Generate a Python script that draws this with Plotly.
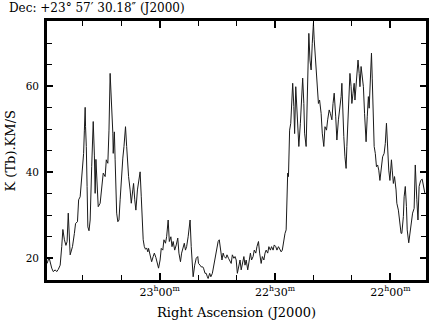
import plotly.graph_objects as go

# Right ascension in minutes of time (23h00m = 1380) and integrated intensity K km/s
ra_min = [
    1409.3, 1408.8, 1408.1, 1407.7, 1407.2, 1406.8, 1406.4, 1405.9, 1405.5, 1405.2,
    1404.8, 1404.4, 1404.1, 1403.8, 1403.3, 1402.7, 1402.2, 1401.9, 1401.4, 1401.1,
    1400.7, 1400.3, 1400.0, 1399.8, 1399.6, 1399.4, 1399.3, 1399.1, 1398.9, 1398.7,
    1398.4, 1398.1, 1397.7, 1397.3, 1397.0, 1396.8, 1396.6, 1396.3, 1396.0, 1395.5,
    1395.1, 1394.7, 1394.2, 1393.9, 1393.5, 1393.2, 1392.9,
    1392.5, 1392.2, 1392.1, 1391.8, 1391.6, 1391.2, 1390.9, 1390.6, 1390.3, 1389.9,
    1389.6, 1389.3, 1388.9, 1388.6, 1388.3, 1388.1, 1387.7, 1387.4, 1387.0, 1386.8,
    1386.5, 1386.2, 1385.8, 1385.5, 1385.1, 1384.8, 1384.5, 1384.3, 1384.0, 1383.7,
    1383.4, 1383.1, 1382.9, 1382.5, 1382.1, 1381.7, 1381.4, 1381.0, 1380.7, 1380.3,
    1379.9, 1379.6, 1379.2, 1378.9, 1378.5, 1378.2, 1377.8, 1377.5, 1377.1, 1376.8,
    1376.5, 1376.1, 1375.7, 1375.3, 1375.0, 1374.6, 1374.3, 1373.9, 1373.6, 1373.3,
    1373.0, 1372.6, 1372.4, 1372.1, 1371.8, 1371.5, 1371.3, 1370.9, 1370.5, 1370.1,
    1369.9, 1369.5, 1369.2, 1368.8, 1368.6, 1368.2, 1367.9, 1367.6, 1367.4, 1367.0,
    1366.7, 1366.3, 1366.0, 1365.6, 1365.3, 1364.8, 1364.5, 1364.1, 1363.8, 1363.5,
    1363.2, 1362.8, 1362.5, 1362.1, 1361.8, 1361.4, 1361.1, 1360.7, 1360.4,
    1360.1, 1359.8, 1359.4, 1359.1, 1358.8, 1358.5, 1358.1, 1357.8, 1357.5, 1357.1,
    1356.8, 1356.4, 1356.1, 1355.7, 1355.4, 1355.0, 1354.7, 1354.3, 1354.0, 1353.6,
    1353.3, 1352.9, 1352.6, 1352.3, 1351.9, 1351.6, 1351.2, 1350.9, 1350.5, 1350.2,
    1349.8, 1349.5, 1349.1, 1348.8, 1348.4, 1348.1, 1347.7, 1347.4, 1347.1, 1347.0,
    1346.7, 1346.5, 1346.4, 1346.2, 1345.9, 1345.7, 1345.4, 1345.1, 1344.9, 1344.6,
    1344.4, 1344.1, 1343.8,
    1343.4, 1343.1, 1342.8, 1342.5, 1342.3, 1341.9, 1341.7, 1341.4, 1341.2, 1340.9,
    1340.6, 1340.3, 1340.0, 1339.8, 1339.4, 1339.1, 1338.7, 1338.4, 1338.0, 1337.7,
    1337.3, 1337.0, 1336.6, 1336.3, 1335.9, 1335.6, 1335.2, 1334.9, 1334.6, 1334.2,
    1333.9, 1333.5, 1333.2, 1332.8, 1332.6, 1332.4, 1332.1, 1331.8, 1331.5, 1331.3,
    1331.0, 1330.7, 1330.5, 1330.2, 1330.0, 1329.7, 1329.4, 1329.2, 1328.9, 1328.7,
    1328.4, 1328.1, 1327.9, 1327.6,
    1327.0, 1326.7, 1326.3, 1326.0, 1325.7, 1325.5, 1325.2, 1324.9, 1324.7, 1324.4,
    1324.2, 1323.9, 1323.6, 1323.3, 1323.0, 1322.7, 1322.3, 1322.0, 1321.6, 1321.3,
    1321.0, 1320.8, 1320.4, 1320.1, 1319.7, 1319.5, 1319.2, 1318.9, 1318.5, 1318.3,
    1317.9, 1317.6, 1317.2, 1317.0, 1316.6, 1316.4, 1316.1, 1315.8, 1315.6, 1315.2,
    1314.9, 1314.5, 1314.2, 1313.8, 1313.5, 1313.1, 1312.8, 1312.5, 1312.1, 1311.7,
    1311.4, 1311.0,
]

intensity = [
    18.8, 20.2, 17.7, 16.9, 17.3, 16.9, 17.4, 18.4, 22.7, 26.7,
    24.3, 23.0, 23.9, 30.5, 20.8, 22.7, 25.8, 28.1, 28.5, 33.6,
    34.3, 39.0, 43.6, 44.4, 49.8, 55.1, 50.6, 46.0, 36.7, 27.3,
    26.4, 28.9, 41.3, 51.8, 44.0, 35.1, 43.0, 36.7, 32.0, 32.8,
    35.9, 39.8, 39.0, 42.9, 42.1, 49.8, 63.0,
    56.0, 49.1, 44.4, 49.4, 42.9, 30.5, 28.5, 28.9, 33.6, 39.8,
    43.3, 46.0, 50.6, 46.0, 39.8, 39.0, 35.9, 32.8, 35.9, 37.4,
    33.6, 31.2, 35.9, 37.4, 40.1, 34.3, 27.3, 24.3, 22.7, 22.1,
    22.4, 21.5, 22.3, 20.8, 19.2, 20.4, 21.2, 20.2, 19.2, 17.7,
    19.6, 22.3, 21.9, 24.3, 23.5, 25.0, 28.9, 23.9, 25.0, 22.7,
    23.9, 21.9, 23.1, 24.7, 21.2, 19.2, 21.2, 22.7, 23.5, 21.9,
    22.7, 25.0, 26.6, 28.9, 22.7, 18.0, 15.7, 18.4, 20.0, 20.4,
    18.8, 18.4, 18.0, 18.0, 17.7, 16.5, 16.5, 15.7, 15.3, 16.5,
    15.7, 16.5, 18.0, 20.4, 21.9, 23.9, 24.3, 21.2, 19.6, 21.2,
    20.4, 20.0, 20.8, 20.0, 19.6, 18.8, 20.8, 20.0, 20.4,
    19.6, 16.5, 18.8, 19.6, 17.3, 18.8, 20.4, 18.4, 19.6, 17.3,
    18.8, 21.2, 19.6, 20.4, 21.9, 21.2, 22.7, 23.9, 21.2, 18.8,
    20.4, 19.6, 21.2, 21.9, 21.2, 22.7, 21.9, 22.7, 21.9, 23.1,
    22.7, 21.9, 22.7, 22.3, 21.5, 21.9, 24.3, 25.8, 26.6, 32.0,
    39.8, 39.0, 42.9, 49.8, 51.4, 54.5, 60.7, 55.3, 49.0, 59.9,
    56.0, 49.8, 46.0,
    51.4, 56.8, 61.9, 56.0, 49.1, 46.0, 52.2, 63.8, 72.3, 66.1,
    63.8, 70.0, 74.7, 70.8, 65.3, 59.9, 56.0, 56.8, 53.7, 49.1,
    46.0, 50.6, 49.8, 52.2, 54.5, 53.7, 52.2, 56.0, 58.4, 52.9,
    47.5, 52.2, 54.5, 57.6, 60.7, 54.5, 48.3, 43.6, 40.9, 46.0,
    52.9, 58.4, 63.0, 59.9, 56.0, 58.4, 60.7, 56.8, 59.9, 63.8,
    66.1, 63.0, 59.9, 64.6,
    59.9, 53.7, 47.1, 52.9, 57.6, 54.9, 61.9, 67.7, 61.9, 52.2,
    46.0, 44.4, 41.3, 41.7, 40.5, 38.1, 41.3, 43.6, 44.4, 46.7,
    51.4, 46.7, 40.5, 38.1, 42.9, 40.5, 37.4, 39.0, 35.9, 32.8,
    31.2, 28.9, 25.8, 25.8, 29.7, 34.3, 36.7, 32.0, 26.6, 23.6,
    25.8, 28.9, 30.5, 31.6, 41.7, 33.6, 28.9, 36.7, 38.1, 38.4,
    36.7, 35.1,
]

x_tick_vals = [1380, 1350, 1320]
x_tick_text = ["23<sup>h</sup>00<sup>m</sup>", "22<sup>h</sup>30<sup>m</sup>", "22<sup>h</sup>00<sup>m</sup>"]
x_minor_step = 10   # minutes of RA between small ticks
y_tick_vals = [20, 40, 60]
y_minor_step = 5

X_RANGE = [1409.33, 1310.71]
Y_RANGE = [14.95, 75.18]
FONT = "DejaVu Serif"

fig = go.Figure()
fig.add_trace(go.Scatter(
    x=ra_min, y=intensity, mode="lines",
    line=dict(color="#1a1a1a", width=1),
    hoverinfo="skip", showlegend=False,
))
# invisible carrier trace for the overlaid minor-tick axes
fig.add_trace(go.Scatter(
    x=ra_min, y=intensity, mode="lines", xaxis="x2", yaxis="y2",
    line=dict(width=0, color="rgba(0,0,0,0)"),
    hoverinfo="skip", showlegend=False,
))

fig.update_layout(
    template="none",
    width=442, height=328,
    margin=dict(l=47, r=16, t=21, b=48, autoexpand=False),
    paper_bgcolor="white", plot_bgcolor="white",
    font=dict(family=FONT, color="black"),
    xaxis=dict(
        range=X_RANGE, showline=True, linecolor="black", linewidth=2.8,
        mirror="allticks", showgrid=False, zeroline=False, automargin=False,
        tickmode="array", tickvals=x_tick_vals, ticktext=x_tick_text,
        ticks="inside", ticklen=7, tickwidth=1.5, tickcolor="black",
        layer="above traces",
        tickfont=dict(family=FONT, size=11, color="black"), ticklabelstandoff=0,
    ),
    yaxis=dict(
        range=Y_RANGE, showline=True, linecolor="black", linewidth=2.8,
        mirror="allticks", showgrid=False, zeroline=False, automargin=False,
        tickmode="array", tickvals=y_tick_vals,
        ticks="inside", ticklen=6, tickwidth=1.5, tickcolor="black",
        layer="above traces",
        tickfont=dict(family=FONT, size=10.5, color="black"), ticklabelstandoff=3,
    ),
    xaxis2=dict(
        overlaying="x", side="bottom", range=X_RANGE, showgrid=False, zeroline=False,
        tickmode="linear", tick0=1380, dtick=x_minor_step, showticklabels=False,
        ticks="inside", ticklen=5, tickwidth=1.2, tickcolor="black", mirror="allticks",
        showline=False, automargin=False,
    ),
    yaxis2=dict(
        overlaying="y", side="left", range=Y_RANGE, showgrid=False, zeroline=False,
        tickmode="linear", tick0=20, dtick=y_minor_step, showticklabels=False,
        ticks="inside", ticklen=5, tickwidth=1.2, tickcolor="black", mirror="allticks",
        showline=False, automargin=False,
    ),
    annotations=[
        dict(text="Dec: +23° 57′ 30.18″ (J2000)", xref="paper", yref="paper",
             x=-0.1055, y=1.050, xanchor="left", yanchor="middle",
             showarrow=False, font=dict(family=FONT, size=12, color="black")),
        dict(text="K (Tb).KM/S", xref="paper", yref="paper",
             x=-0.095, y=0.5, xanchor="center", yanchor="middle", textangle=-90,
             showarrow=False, font=dict(family=FONT, size=13, color="black")),
        dict(text="Right Ascension (J2000)", xref="paper", yref="paper",
             x=0.5, y=-0.127, xanchor="center", yanchor="middle",
             showarrow=False, font=dict(family=FONT, size=13, color="black")),
    ],
)

fig.write_html("out.html", config={"displayModeBar": False},
               post_script="document.body.style.margin='0px';")
